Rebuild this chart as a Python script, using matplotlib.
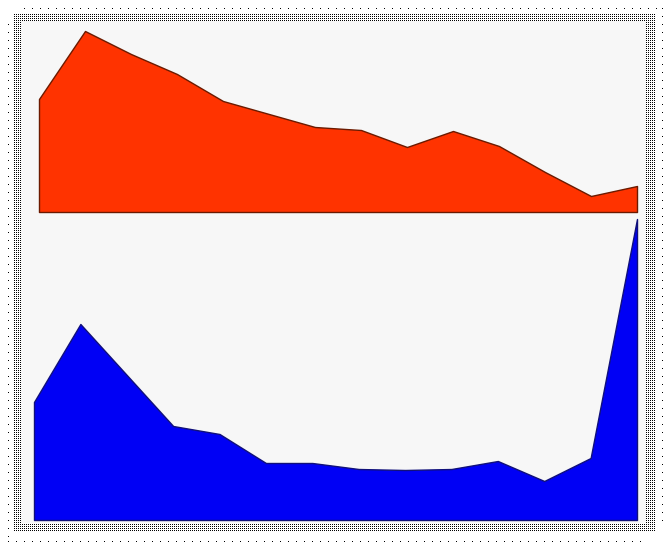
import numpy as np
import matplotlib
matplotlib.use("Agg")
import matplotlib.pyplot as plt

# values (pixel heights above each baseline)
top_vals = [113, 181, 158, 138, 111, 98, 85, 82, 65, 81, 66, 40, 16, 26]
bottom_vals = [118, 196, 145, 94, 86, 57, 57, 51, 50, 51, 59, 39, 62, 301]
idx = list(range(len(top_vals)))

W, H = 669, 550
fig = plt.figure(figsize=(W / 100, H / 100), dpi=100)

# background + dotted frame as a pixel image
img = np.ones((H, W, 3))
yy, xx = np.mgrid[0:H, 0:W]
band = (xx >= 13) & (xx <= 655) & (yy >= 13) & (yy <= 531)
inner = (xx > 20) & (xx < 646) & (yy > 20) & (yy < 523)
img[band & ~inner & (xx % 2 == 0) & (yy % 2 == 0)] = 0
img[inner] = 0.969
sparse = np.zeros((H, W), bool)
sparse[8, 24:661:8] = True
sparse[24:541:8, 8] = True
sparse[541, 8:641:8] = True
sparse[8:521:8, 662] = True
img[sparse] = 0

bg = fig.add_axes([0, 0, 1, 1], zorder=0)
bg.imshow(img, interpolation="nearest", extent=(0, W, H, 0))
bg.set_xlim(0, W)
bg.set_ylim(H, 0)
bg.axis("off")


def px_axes(x0, x1, ybase, ytop):
    return fig.add_axes([x0 / W, (H - ybase) / H, (x1 - x0) / W, (ybase - ytop) / H], zorder=1)


ax1 = px_axes(39, 637, 212, 22)
ax1.fill_between(idx, top_vals, 0, facecolor="#ff3300", edgecolor="#6b1a00", linewidth=1)
ax1.set_xlim(0, len(idx) - 1)
ax1.set_ylim(0, 190)

ax2 = px_axes(34, 637, 520, 218)
ax2.fill_between(idx, bottom_vals, 0, facecolor="#0000f5", edgecolor="#10107a", linewidth=1)
ax2.set_xlim(0, len(idx) - 1)
ax2.set_ylim(0, 302)

for ax in (ax1, ax2):
    ax.axis("off")
    ax.patch.set_alpha(0)
    for a in ax.collections:
        a.set_clip_on(False)

fig.savefig("out.png", dpi=100)
